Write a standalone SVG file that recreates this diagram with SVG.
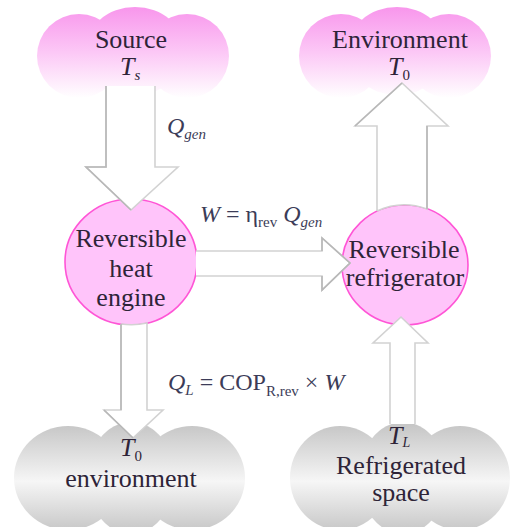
<svg xmlns="http://www.w3.org/2000/svg" width="511" height="527" viewBox="0 0 511 527">
<defs>
<linearGradient id="pinkL" gradientUnits="userSpaceOnUse" x1="0" y1="7" x2="0" y2="98">
<stop offset="0" stop-color="#f896ec"/><stop offset="0.5" stop-color="#fcc8f6"/><stop offset="1" stop-color="#ffffff"/>
</linearGradient>
<linearGradient id="grayL" gradientUnits="userSpaceOnUse" x1="0" y1="422" x2="0" y2="530">
<stop offset="0" stop-color="#c4c4c4"/><stop offset="0.55" stop-color="#f6f6f6"/><stop offset="1" stop-color="#c8c8c8"/>
</linearGradient>
<style>
.pc{fill:url(#pinkL)}
.gc{fill:url(#grayL)}
.node{fill:#ffc4fa;stroke:#ff55d6;stroke-width:1.6}
.arr{fill:#ffffff;stroke:#d2d2d2;stroke-width:1.6;stroke-linejoin:miter}
.dk{fill:none;stroke:#b8b8b8;stroke-width:1.6}
text{font-family:'Liberation Serif','DejaVu Serif',serif}
.t{font-size:26px;fill:#2e2438;text-anchor:middle}
.s{font-size:26px;fill:#2e2438;text-anchor:start}
.i{font-style:italic}
.lb{font-size:24px;fill:#3c3c58}
.sub{font-size:15px}
</style>
</defs>

<g id="source">
<ellipse class="pc" cx="79" cy="56" rx="42" ry="42"/>
<ellipse class="pc" cx="135" cy="51" rx="50" ry="44"/>
<ellipse class="pc" cx="187" cy="56" rx="42" ry="42"/>
<text class="t" x="131" y="48" font-family="Liberation Serif, serif">Source</text>
<text class="s i" x="120" y="75" font-family="Liberation Serif, serif">T<tspan class="sub" dy="5">s</tspan></text>
</g>

<g id="environment-top">
<ellipse class="pc" cx="341" cy="56" rx="42" ry="42"/>
<ellipse class="pc" cx="397" cy="51" rx="50" ry="44"/>
<ellipse class="pc" cx="449" cy="56" rx="42" ry="42"/>
<text class="t" x="400" y="48" font-family="Liberation Serif, serif">Environment</text>
<text class="s" x="388" y="75" font-family="Liberation Serif, serif"><tspan class="i">T</tspan><tspan class="sub" dy="5">0</tspan></text>
</g>

<g id="heat-engine">
<ellipse class="node" cx="131" cy="262" rx="66" ry="63"/>
<text class="t" x="131" y="247" font-family="Liberation Serif, serif">Reversible</text>
<text class="t" x="131" y="277" font-family="Liberation Serif, serif">heat</text>
<text class="t" x="131" y="306" font-family="Liberation Serif, serif">engine</text>
</g>

<g id="refrigerator">
<ellipse class="node" cx="405" cy="265" rx="63" ry="60"/>
<text class="t" x="404" y="258" font-family="Liberation Serif, serif">Reversible</text>
<text class="t" x="405" y="286" font-family="Liberation Serif, serif">refrigerator</text>
</g>

<g id="environment-bottom">
<ellipse class="gc" cx="68" cy="478" rx="54" ry="52"/>
<ellipse class="gc" cx="131" cy="478" rx="44" ry="56"/>
<ellipse class="gc" cx="192" cy="478" rx="53" ry="52"/>
<text class="s" x="120" y="456" font-family="Liberation Serif, serif"><tspan class="i">T</tspan><tspan class="sub" dy="5">0</tspan></text>
<text class="t" x="131" y="487" font-family="Liberation Serif, serif">environment</text>
</g>

<g id="refrigerated-space">
<ellipse class="gc" cx="340" cy="478" rx="50" ry="52"/>
<ellipse class="gc" cx="403" cy="478" rx="44" ry="56"/>
<ellipse class="gc" cx="460" cy="478" rx="50" ry="52"/>
<text class="s i" x="388" y="444" font-family="Liberation Serif, serif">T<tspan style="font-size:14px" dy="3">L</tspan></text>
<text class="t" x="401" y="474" font-family="Liberation Serif, serif">Refrigerated</text>
<text class="t" x="401" y="501" font-family="Liberation Serif, serif">space</text>
</g>

<g id="connectors">
<path class="arr" d="M106,86 V167 H86 L131,210 L178,167 H155 V86"/>
<path class="dk" d="M106,86 V167 H86 L131,210"/>
<path class="arr" d="M377,211 V126 H355 L402,83 L448,126 H427 V209 A63,60 0 0,0 377,211"/>
<path class="dk" d="M355,126 L402,83 M427,126 V209"/>
<path class="arr" d="M196,251 H322 V238 L350,263 L322,290 V276 H196"/>
<path class="dk" d="M322,251 V238 L350,263 L322,290 V276"/>
<path class="arr" d="M121,324 V410 H104 L133,438 L163,410 H147 V323 A66,63 0 0,1 121,324"/>
<path class="dk" d="M104,410 L133,438 M121,324 V410"/>
<path class="arr" d="M390,424 V343 H373 L401,317 L428,343 H415 V424"/>
</g>

<g id="labels">
<text class="lb" x="167" y="134" font-family="Liberation Serif, serif"><tspan class="i">Q</tspan><tspan class="sub i" dy="5">gen</tspan></text>
<text class="lb" x="200" y="222" font-family="Liberation Serif, serif"><tspan class="i">W</tspan> = η<tspan class="sub" dy="5">rev</tspan><tspan dy="-5" dx="6" class="i">Q</tspan><tspan class="sub i" dy="5">gen</tspan></text>
<text class="lb" x="168" y="390" font-family="Liberation Serif, serif"><tspan class="i">Q</tspan><tspan class="sub i" dy="5">L</tspan><tspan dy="-5"> = COP</tspan><tspan class="sub" dy="6">R,rev</tspan><tspan dy="-6"> × </tspan><tspan class="i">W</tspan></text>
</g>
</svg>
